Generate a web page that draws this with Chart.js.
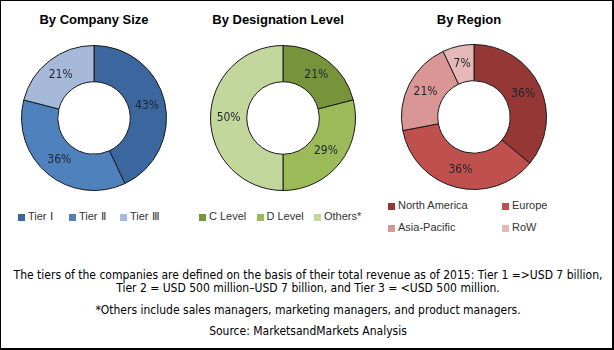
<!DOCTYPE html>
<html>
<head>
<meta charset="utf-8">
<script src="https://cdn.jsdelivr.net/npm/chart.js@4"></script>
<style>
  html, body { margin: 0; padding: 0; background: #fff; }
  #frame { position: relative; width: 614px; height: 350px; box-sizing: border-box; border: 1px solid #000; border-right-width: 2px; border-bottom-width: 2px; overflow: hidden; }
  .title { position: absolute; top: 11px; font: bold 13px "Liberation Sans", Arial, sans-serif; color: #000; white-space: nowrap; transform: translateX(-50%); }
  .box { position: absolute; width: 146px; height: 146px; }
  .legend { position: absolute; font: 11px "Liberation Sans", Arial, sans-serif; color: #333; white-space: nowrap; }
  .legend .item { display: inline-block; height: 22px; line-height: 22px; white-space: nowrap; }
  .legend .sw { display: inline-block; width: 7px; height: 7px; margin-right: 3px; vertical-align: -1px; }
  #regionLegend { white-space: normal; }
  #notes { position: absolute; left: 0; top: 268px; width: 614px; text-align: center; font: 12px "DejaVu Sans Condensed", "DejaVu Sans", sans-serif; color: #000; }
  #notes p { margin: 0; line-height: 13px; }
</style>
</head>
<body>
<div id="frame">
  <div class="title" style="left:93px">By Company Size</div>
  <div class="title" style="left:277px">By Designation Level</div>
  <div class="title" style="left:468px">By Region</div>

  <div class="box" style="left:20px;top:44px"><canvas id="companyChart"></canvas></div>
  <div class="box" style="left:209px;top:44px"><canvas id="designationChart"></canvas></div>
  <div class="box" style="left:400px;top:43px"><canvas id="regionChart"></canvas></div>

  <div class="legend" id="companyLegend" style="left:17px;top:204px"></div>
  <div class="legend" id="designationLegend" style="left:198px;top:204px"></div>
  <div class="legend" id="regionLegend" style="left:387px;top:193px;width:228px"></div>

  <div id="notes">
    <p>The tiers of the companies are defined on the basis of their total revenue as of 2015: Tier 1 =&gt;USD 7 billion,</p>
    <p>Tier 2 = USD 500 million–USD 7 billion, and Tier 3 = &lt;USD 500 million.</p>
    <p style="margin-top:9px">*Others include sales managers, marketing managers, and product managers.</p>
    <p style="margin-top:8px">Source: MarketsandMarkets Analysis</p>
  </div>
</div>

<script>
const companyLabels = ['Tier Ⅰ', 'Tier Ⅱ', 'Tier Ⅲ'];
const companyValues = [43, 36, 21];
const companyColors = ['#3B679E', '#4F81BD', '#A7B9D9'];

const designationLabels = ['C Level', 'D Level', 'Others*'];
const designationValues = [21, 29, 50];
const designationColors = ['#77933C', '#9BBB59', '#C3D69B'];

const regionLabels = ['North America', 'Europe', 'Asia-Pacific', 'RoW'];
const regionValues = [36, 36, 21, 7];
const regionColors = ['#953735', '#C0504D', '#D99694', '#E6B9B8'];

// percent text in the middle of each ring segment
const pctLabels = {
  id: 'pctLabels',
  afterDatasetsDraw(chart) {
    const { ctx } = chart;
    const meta = chart.getDatasetMeta(0);
    const values = chart.data.datasets[0].data;
    ctx.save();
    ctx.font = '12px "DejaVu Sans Condensed", "DejaVu Sans", sans-serif';
    ctx.fillStyle = '#1e2430';
    ctx.textAlign = 'center';
    ctx.textBaseline = 'middle';
    meta.data.forEach((arc, i) => {
      const p = arc.tooltipPosition();
      ctx.fillText(values[i] + '%', p.x, p.y);
    });
    ctx.restore();
  },
};

function makeDonut(id, labels, values, colors) {
  return new Chart(document.getElementById(id), {
    type: 'doughnut',
    data: {
      labels,
      datasets: [{
        data: values,
        backgroundColor: colors,
        borderColor: '#1a1a1a',
        borderWidth: 1,
      }],
    },
    options: {
      responsive: true,
      maintainAspectRatio: false,
      animation: false,
      cutout: '50%',
      layout: { padding: 0 },
      plugins: { legend: { display: false }, tooltip: { enabled: false } },
    },
    plugins: [pctLabels],
  });
}

function makeLegend(id, labels, colors, itemWidth) {
  const el = document.getElementById(id);
  labels.forEach((name, i) => {
    const item = document.createElement('span');
    item.className = 'item';
    item.style.width = itemWidth + 'px';
    const sw = document.createElement('span');
    sw.className = 'sw';
    sw.style.background = colors[i];
    item.appendChild(sw);
    item.appendChild(document.createTextNode(name));
    el.appendChild(item);
  });
}

makeDonut('companyChart', companyLabels, companyValues, companyColors);
makeDonut('designationChart', designationLabels, designationValues, designationColors);
makeDonut('regionChart', regionLabels, regionValues, regionColors);

makeLegend('companyLegend', companyLabels, companyColors, 51);
makeLegend('designationLegend', designationLabels, designationColors, 57.5);
makeLegend('regionLegend', regionLabels, regionColors, 114);
</script>
</body>
</html>
